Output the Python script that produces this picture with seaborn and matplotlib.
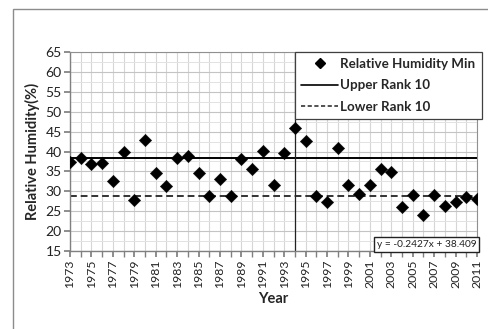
import numpy as np
import pandas as pd
import matplotlib
matplotlib.use("Agg")
import matplotlib.pyplot as plt
from matplotlib.lines import Line2D
from matplotlib.patches import Rectangle
from matplotlib.ticker import MultipleLocator
import seaborn as sns

years = list(range(1973, 2012))
rh_min = [37.4, 38.3, 36.9, 37.1, 32.7, 39.9, 27.9, 42.8, 34.5, 31.4,
          38.4, 38.9, 34.5, 28.7, 33.2, 28.9, 38.0, 35.6, 40.1, 31.6,
          39.6, 46.0, 42.6, 28.9, 27.3, 41.0, 31.6, 29.4, 31.7, 35.5,
          34.9, 26.1, 29.1, 24.1, 29.0, 26.2, 27.2, 28.6, 28.1]
upper_rank10 = 38.4
lower_rank10 = 28.9
split_year = 1994
trend_label = "y = -0.2427x + 38.409"

df = pd.DataFrame({"Year": years, "RH": rh_min})

sns.set_theme(style="white")
plt.rcParams["font.family"] = ["Lato", "DejaVu Sans"]

fig = plt.figure(figsize=(4.88, 3.29), dpi=100)
fig.patch.set_facecolor("white")
# outer chart frame
fig.add_artist(Rectangle((13 / 488, -0.1), 1.2, 1 - 9 / 329 + 0.1,
                         transform=fig.transFigure, fill=False,
                         edgecolor="#8c8c8c", linewidth=1.0))

ax = fig.add_axes([70 / 488, 1 - 251 / 329, 407 / 488, 199 / 329])
ax.set_xlim(1973, 2011)
ax.set_ylim(15, 65)

ax.xaxis.set_major_locator(MultipleLocator(2))
ax.xaxis.set_minor_locator(MultipleLocator(1))
ax.yaxis.set_major_locator(MultipleLocator(5))
ax.yaxis.set_minor_locator(MultipleLocator(2.5))
ax.grid(which="both", axis="x", color="#d6d6d6", linewidth=0.8)
ax.grid(which="major", axis="y", color="#c4c4c4", linewidth=0.8)
ax.grid(which="minor", axis="y", color="#e2e2e2", linewidth=0.7)
ax.set_axisbelow(True)

ax.axhline(upper_rank10, color="black", linewidth=1.4, zorder=2)
ax.axhline(lower_rank10, color="#333333", linewidth=1.4,
           linestyle=(0, (3.5, 2)), zorder=2)
ax.axvline(split_year, color="#222222", linewidth=0.9, zorder=2)

sns.scatterplot(data=df, x="Year", y="RH", marker="D", s=40,
                color="black", edgecolor="black", linewidth=0.3,
                ax=ax, zorder=3, legend=False)

for side in ["left", "bottom"]:
    ax.spines[side].set_color("#808080")
    ax.spines[side].set_linewidth(1.0)
for side in ["top", "right"]:
    ax.spines[side].set_color("#909090")
    ax.spines[side].set_linewidth(0.8)

ax.tick_params(axis="both", which="both", direction="out", color="#808080",
               bottom=True, left=True)
ax.tick_params(axis="x", which="major", length=4, labelsize=8.8,
               labelrotation=90, pad=2, labelcolor="#222222")
ax.tick_params(axis="x", which="minor", length=4)
ax.tick_params(axis="y", which="major", length=4, labelsize=10,
               pad=2, labelcolor="#222222")
ax.tick_params(axis="y", which="minor", length=0)
ax.set_xticks(list(range(1973, 2012, 2)))

ax.set_xlabel("Year", fontsize=10.5, fontweight="bold", labelpad=3)
ax.set_ylabel("Relative Humidity(%)", fontsize=10.5, fontweight="bold",
              labelpad=4)

handles = [
    Line2D([], [], marker="D", color="black", linestyle="none", markersize=5),
    Line2D([], [], color="black", linewidth=1.2),
    Line2D([], [], color="#333333", linewidth=1.2, linestyle=(0, (2.5, 1.5))),
]
labels = ["Relative Humidity Min", "Upper Rank 10", "Lower Rank 10"]
leg = ax.legend(handles, labels, loc="upper left",
                bbox_to_anchor=(0.553, 1.0), borderaxespad=0,
                frameon=True, fancybox=False, framealpha=1,
                prop={"weight": "bold", "size": 9.6}, handlelength=2.8,
                handletextpad=0.15, labelspacing=0.7, borderpad=0.45)
leg.get_frame().set_edgecolor("#404040")
leg.get_frame().set_linewidth(0.9)

ax.text(0.998, 0.012, trend_label, transform=ax.transAxes, ha="right",
        va="bottom", fontsize=7.3, color="#222222", zorder=5,
        bbox=dict(boxstyle="square,pad=0.3", facecolor="white",
                  edgecolor="#222222", linewidth=1.0))

fig.savefig("out.png", dpi=100)
